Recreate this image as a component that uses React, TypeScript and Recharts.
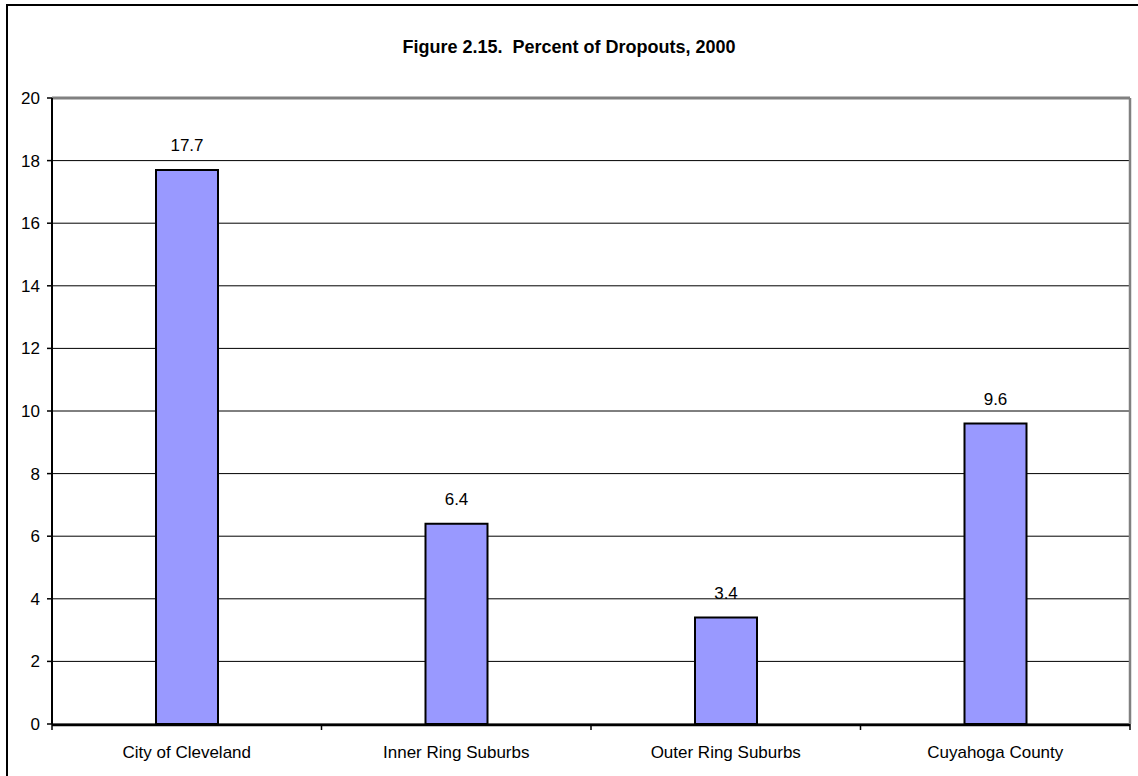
import { BarChart, Bar, XAxis, YAxis, CartesianGrid, LabelList, ReferenceLine } from "recharts";

// Figure 2.15 – percent of dropouts by area, 2000
const areas = ["City of Cleveland", "Inner Ring Suburbs", "Outer Ring Suburbs", "Cuyahoga County"];
const dropoutPct = [17.7, 6.4, 3.4, 9.6];
const yTicks = [0, 2, 4, 6, 8, 10, 12, 14, 16, 18, 20];
const boundaryTicks = [0, 1, 2, 3, 4];

const rows = areas.map((name, i) => ({ name, value: dropoutPct[i], pos: i + 0.5 }));

const font = "'Liberation Sans', Arial, sans-serif";

export default function App() {
  return (
    <div
      style={{
        position: "fixed",
        left: 0,
        top: 0,
        width: 1138,
        height: 776,
        overflow: "hidden",
        background: "#fff",
        fontFamily: font,
      }}
    >
      {/* outer chart frame, cut off on the right and bottom like the original */}
      <div
        style={{
          position: "absolute",
          left: 6,
          top: 4,
          width: 1160,
          height: 800,
          border: "2px solid #000",
        }}
      />
      <div
        style={{
          position: "absolute",
          left: 0,
          top: 37,
          width: 1138,
          textAlign: "center",
          fontWeight: "bold",
          fontSize: 18,
          whiteSpace: "pre",
        }}
      >
        Figure 2.15.  Percent of Dropouts, 2000
      </div>
      <div style={{ position: "absolute", left: 0, top: 0 }}>
        <BarChart
          width={1138}
          height={776}
          data={rows}
          margin={{ top: 98, right: 7, left: 0, bottom: 0 }}
          barCategoryGap={0}
        >
          <CartesianGrid xAxisId="cat" vertical={false} stroke="#000" strokeWidth={1} />
          {/* tick marks sit on category boundaries, so use a numeric helper axis */}
          <XAxis
            xAxisId="bounds"
            dataKey="pos"
            type="number"
            domain={[0, 4]}
            ticks={boundaryTicks}
            height={1}
            axisLine={false}
            tickFormatter={() => ""}
            tickLine={{ stroke: "#000", strokeWidth: 1.5 }}
            tickSize={6}
          />
          <XAxis
            xAxisId="cat"
            dataKey="name"
            height={51}
            axisLine={{ stroke: "#000", strokeWidth: 2.5 }}
            tickLine={false}
            tickSize={0}
            tickMargin={21}
            tick={{ fill: "#000", fontSize: 17, fontFamily: font }}
            interval={0}
          />
          <YAxis
            domain={[0, 20]}
            ticks={yTicks}
            width={52}
            interval={0}
            axisLine={{ stroke: "#000", strokeWidth: 2 }}
            tickLine={{ stroke: "#000", strokeWidth: 1.5 }}
            tickSize={5}
            tickMargin={7}
            tick={{ fill: "#000", fontSize: 17, fontFamily: font }}
          />
          <YAxis
            yAxisId="frame"
            orientation="right"
            domain={[0, 20]}
            width={1}
            tick={false}
            tickLine={false}
            axisLine={{ stroke: "#808080", strokeWidth: 2.5 }}
          />
          <ReferenceLine xAxisId="cat" y={20} stroke="#808080" strokeWidth={3} />
          <Bar
            xAxisId="cat"
            dataKey="value"
            fill="#9999ff"
            stroke="#000"
            strokeWidth={2}
            barSize={62}
            isAnimationActive={false}
          >
            <LabelList
              dataKey="value"
              position="top"
              offset={19}
              fill="#000"
              fontSize={17}
              fontFamily={font}
            />
          </Bar>
        </BarChart>
      </div>
    </div>
  );
}
